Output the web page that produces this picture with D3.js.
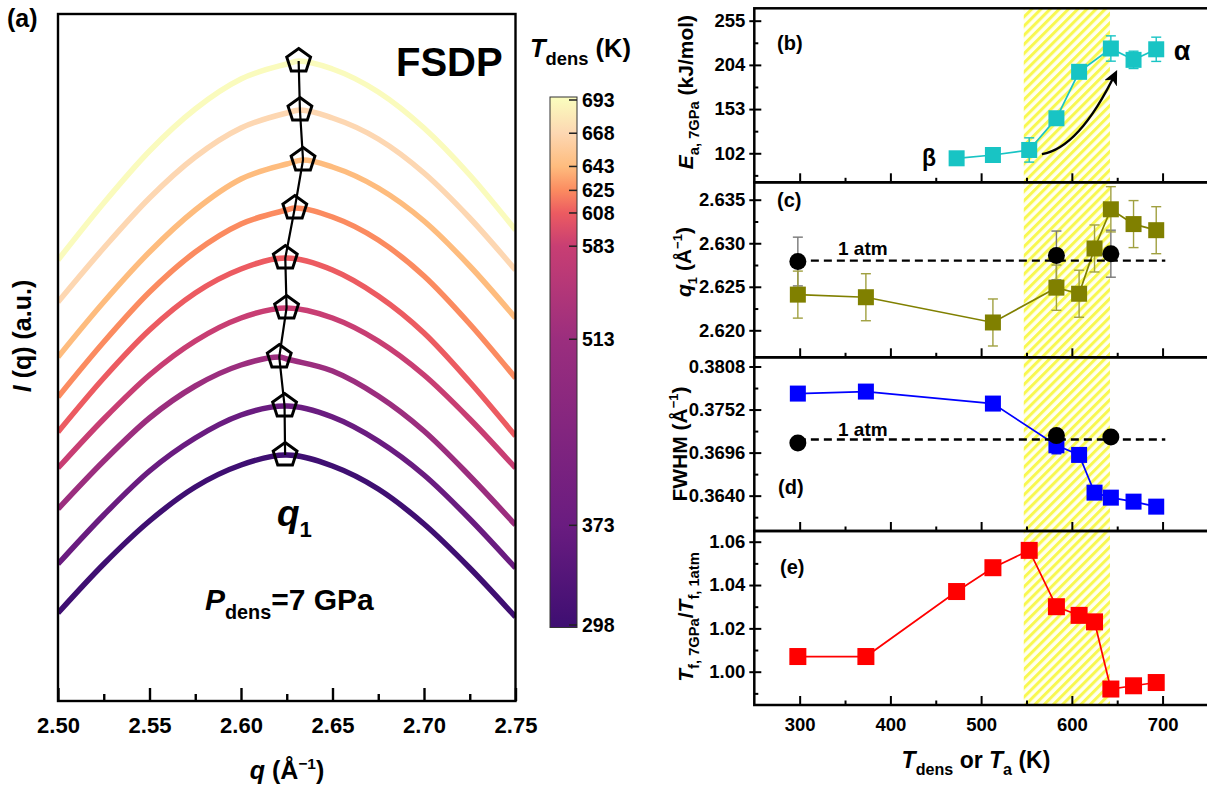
<!DOCTYPE html>
<html>
<head>
<meta charset="utf-8">
<script src="https://cdn.jsdelivr.net/npm/d3@7"></script>
<style>
  body { margin: 0; background: #fff; }
  svg { font-family: "Liberation Sans", Arial, sans-serif; font-weight: bold; }
</style>
</head>
<body>
<svg id="fig" width="1207" height="788"></svg>
<script>
// ---------------- data ----------------
// panel (a): FSDP curves, one per densification temperature
const tDens = [298, 373, 513, 583, 608, 625, 643, 668, 693];
const qGrid = [2.500, 2.525, 2.550, 2.575, 2.600, 2.625, 2.650, 2.675, 2.700, 2.725, 2.750];
const iq298 = [0.88, 1.37, 1.80, 2.14, 2.36, 2.46, 2.35, 2.12, 1.77, 1.33, 0.84];
const iq373 = [1.37, 1.86, 2.30, 2.63, 2.86, 2.95, 2.84, 2.60, 2.26, 1.82, 1.33];
const iq513 = [1.92, 2.40, 2.83, 3.15, 3.36, 3.42, 3.30, 3.05, 2.70, 2.25, 1.76];
const iq583 = [2.33, 2.82, 3.26, 3.60, 3.83, 3.93, 3.83, 3.60, 3.26, 2.82, 2.33];
const iq608 = [2.69, 3.23, 3.71, 4.08, 4.32, 4.43, 4.31, 4.05, 3.68, 3.19, 2.65];
const iq625 = [3.04, 3.59, 4.09, 4.49, 4.77, 4.91, 4.84, 4.61, 4.25, 3.77, 3.23];
const iq643 = [3.44, 3.99, 4.49, 4.91, 5.22, 5.37, 5.34, 5.13, 4.80, 4.35, 3.83];
const iq668 = [3.99, 4.53, 5.03, 5.44, 5.73, 5.88, 5.83, 5.62, 5.28, 4.83, 4.31];
const iq693 = [4.41, 4.98, 5.50, 5.92, 6.22, 6.37, 6.32, 6.09, 5.73, 5.26, 4.71];
const curves = [iq298, iq373, iq513, iq583, iq608, iq625, iq643, iq668, iq693];
const peakI = [2.46, 2.95, 3.44, 3.93, 4.43, 4.93, 5.41, 5.91, 6.40];
const curveColors = ['#3f0f72', '#6a1c80', '#9b2e7e', '#c83e73', '#ec5b61',
                     '#fb8b60', '#febc7e', '#fdd7b2', '#fafbbd'];
const qTicks = [2.50, 2.55, 2.60, 2.65, 2.70, 2.75];
const qMinor = [2.525, 2.575, 2.625, 2.675, 2.725];

// panel (b): activation energy
const tB = [473, 513, 553, 583, 608, 643, 668, 693];
const ea = [96.2, 100.0, 105.8, 142.4, 196.0, 222.9, 209.8, 222.0];
const eaErr = [3, 3, 14, 3, 3, 14.6, 10, 14];
const eaTicks = [102, 153, 204, 255];
const eaMinor = [76.5, 127.5, 178.5, 229.5];

// panel (c): FSDP position q1
const q1 = [2.6241, 2.6238, 2.6209, 2.6249, 2.6242, 2.6294, 2.6339, 2.6322, 2.6315];
const q1Err = [0.0027, 0.0027, 0.0027, 0.0026, 0.0027, 0.0027, 0.0026, 0.0027, 0.0027];
const tAtm = [298, 583, 643];
const q1Atm = [2.6279, 2.6286, 2.6288];
const q1AtmErr = [0.0028, 0.0028, 0.0027];
const q1AtmRef = 2.628;
const q1Ticks = [2.620, 2.625, 2.630, 2.635];
const q1Minor = [2.6225, 2.6275, 2.6325];

// panel (d): FWHM
const fwhm = [0.37728, 0.37754, 0.37598, 0.37055, 0.3693, 0.36439, 0.36374, 0.36322, 0.36257];
const fwhmErr = [0.0003, 0.0003, 0.0003, 0.0011, 0.0003, 0.0003, 0.0003, 0.0003, 0.0003];
const fwhmAtm = [0.37085, 0.37181, 0.37163];
const fwhmAtmRef = 0.3713;
const fwhmTicks = [0.3640, 0.3696, 0.3752, 0.3808];
const fwhmMinor = [0.3612, 0.3668, 0.3724, 0.3780];

// panel (e): fictive temperature ratio
const tE = [298, 373, 473, 513, 553, 583, 608, 625, 643, 668, 693];
const tfRatio = [1.007, 1.007, 1.037, 1.048, 1.056, 1.030, 1.026, 1.023, 0.992, 0.9935, 0.995];
const ratioTicks = [1.00, 1.02, 1.04, 1.06];
const ratioMinor = [0.99, 1.01, 1.03, 1.05];

const tTicks = [300, 400, 500, 600, 700];
const tMinor = [350, 450, 550, 650, 750];
const hatchRange = [547, 642];

// ---------------- helpers ----------------
const svg = d3.select('#fig');
const defs = svg.append('defs');

// text with italic / sub / sup pieces
function rich(g, x, y, size, parts, anchor, rotate) {
  const t = g.append('text')
    .attr('x', x).attr('y', y)
    .attr('font-size', size)
    .attr('text-anchor', anchor || 'start');
  if (rotate) t.attr('transform', `rotate(-90, ${x}, ${y})`);
  let off = 0;
  parts.forEach(p => {
    const s = p[0], k = p[1] || '', r = p[2] || 0.68;
    let target = 0;
    if (k.includes('sub')) target = 0.3 * size;
    if (k.includes('sup')) target = -0.42 * size;
    const sp = t.append('tspan').attr('dy', target - off).text(s);
    off = target;
    if (k.includes('sub') || k.includes('sup')) sp.attr('font-size', size * r);
    if (k.includes('i')) sp.attr('font-style', 'italic');
  });
  return t;
}

function pentagon(r) {
  const pts = d3.range(5).map(k => {
    const a = -Math.PI / 2 + k * 2 * Math.PI / 5;
    return [r * Math.cos(a), r * Math.sin(a)];
  });
  return 'M' + pts.map(p => p.join(',')).join('L') + 'Z';
}

function cleanAxis(a) {
  a.attr('font-family', null).attr('font-size', null);
  a.select('.domain').remove();
  return a;
}

// ---------------- panel (a) ----------------
const A = {left: 58, right: 515.5, top: 14, bottom: 701};
const xA = d3.scaleLinear().domain([2.5, 2.75]).range([A.left, A.right]);
const yA = d3.scaleLinear().domain([0, 6.87]).range([A.bottom, A.top]);
const gA = svg.append('g');

defs.append('clipPath').attr('id', 'clipA')
  .append('rect').attr('x', A.left).attr('y', A.top)
  .attr('width', A.right - A.left).attr('height', A.bottom - A.top);

const lineA = d3.line().x(d => xA(d[0])).y(d => yA(d[1])).curve(d3.curveMonotoneX);
const curveG = gA.append('g').attr('clip-path', 'url(#clipA)');
curves.forEach((c, i) => {
  const pts = qGrid.map((q, j) => [q, c[j]]);
  pts.push([q1[i], peakI[i]]);
  pts.sort((a, b) => a[0] - b[0]);
  curveG.append('path').datum(pts)
    .attr('d', lineA)
    .attr('fill', 'none')
    .attr('stroke', curveColors[i])
    .attr('stroke-width', 5.5);
});

// q1 track
const peaks = q1.map((q, i) => [q, peakI[i]]);
gA.append('path').datum(peaks)
  .attr('d', d3.line().x(d => xA(d[0])).y(d => yA(d[1])))
  .attr('fill', 'none').attr('stroke', '#000').attr('stroke-width', 2.2);
gA.selectAll('.pent').data(peaks).join('path')
  .attr('transform', d => `translate(${xA(d[0])},${yA(d[1])})`)
  .attr('d', pentagon(12.5))
  .attr('fill', 'none').attr('stroke', '#000').attr('stroke-width', 3);

// frame + x axis
gA.append('rect').attr('x', A.left).attr('y', A.top)
  .attr('width', A.right - A.left).attr('height', A.bottom - A.top)
  .attr('fill', 'none').attr('stroke', '#000').attr('stroke-width', 2.4);
const axA = cleanAxis(gA.append('g').attr('transform', `translate(0,${A.bottom})`)
  .call(d3.axisBottom(xA).tickValues(qTicks).tickSize(-13).tickPadding(16)
    .tickFormat(d3.format('.2f'))));
axA.selectAll('line').attr('stroke-width', 2.4);
axA.selectAll('text').attr('font-size', 22).attr('fill', '#000');
const axAm = cleanAxis(gA.append('g').attr('transform', `translate(0,${A.bottom})`)
  .call(d3.axisBottom(xA).tickValues(qMinor).tickSize(-7).tickFormat('')));
axAm.selectAll('line').attr('stroke-width', 2.4);

// labels (a)
gA.append('text').attr('x', 7).attr('y', 27).attr('font-size', 25).text('(a)');
gA.append('text').attr('x', 396).attr('y', 76).attr('font-size', 40).text('FSDP');
rich(gA, 277, 526, 37, [['q', 'i'], ['1', 'sub', 0.6]]);
rich(gA, 205, 610, 30, [['P', 'i'], ['dens', 'sub', 0.66], ['=7 GPa']]);
rich(gA, 287, 779, 25, [['q', 'i'], [' (Å'], ['\u22121', 'sup', 0.62], [')']], 'middle');
rich(gA, 31, 336, 25, [['I', 'i'], [' (q) (a.u.)']], 'middle', true);

// ---------------- colour bar ----------------
const cb = d3.scaleLinear().domain([298, 693]).range([625, 100]);
const cbTop = 97, cbBot = 627.5;
const grad = defs.append('linearGradient').attr('id', 'cbGrad')
  .attr('x1', 0).attr('y1', 0).attr('x2', 0).attr('y2', 1);
tDens.slice().reverse().forEach((t, k) => {
  const i = tDens.length - 1 - k;
  grad.append('stop')
    .attr('offset', (cb(t) - cbTop) / (cbBot - cbTop))
    .attr('stop-color', curveColors[i]);
});
const gC = svg.append('g');
gC.append('rect').attr('x', 550).attr('y', cbTop).attr('width', 27).attr('height', cbBot - cbTop)
  .attr('fill', 'url(#cbGrad)').attr('stroke', '#333').attr('stroke-width', 1);
gC.selectAll('.cbt').data(tDens).join('line')
  .attr('x1', 569).attr('x2', 577).attr('y1', d => cb(d)).attr('y2', d => cb(d))
  .attr('stroke', '#222').attr('stroke-width', 1.5);
gC.selectAll('.cbl').data(tDens).join('text')
  .attr('x', 582).attr('y', d => cb(d)).attr('dy', '0.35em')
  .attr('font-size', 19.5).text(d => d);
rich(gC, 530, 57, 25.5, [['T', 'i'], ['dens', 'sub', 0.72], [' (K)']]);

// ---------------- right panels ----------------
const xR = d3.scaleLinear().domain([250, 800]).range([754.3, 1253.3]);
const R = {left: 754.3, right: 1253.3};
const gR = svg.append('g');

const pat = defs.append('pattern').attr('id', 'hatch')
  .attr('patternUnits', 'userSpaceOnUse').attr('width', 6.5).attr('height', 6.5)
  .attr('patternTransform', 'rotate(45)');
pat.append('rect').attr('width', 6.5).attr('height', 6.5).attr('fill', '#fffff2');
pat.append('rect').attr('width', 3).attr('height', 6.5).attr('fill', '#f8f850');

gR.append('rect')
  .attr('x', xR(hatchRange[0])).attr('y', 9)
  .attr('width', xR(hatchRange[1]) - xR(hatchRange[0])).attr('height', 696)
  .attr('fill', 'url(#hatch)');

const panels = [
  {top: 8.3, bottom: 182.3, domain: [68.5, 269.3], ticks: eaTicks, minor: eaMinor, fmt: d3.format('d')},
  {top: 182.3, bottom: 357.3, domain: [2.6169, 2.6370], ticks: q1Ticks, minor: q1Minor, fmt: d3.format('.3f')},
  {top: 357.3, bottom: 531, domain: [0.3594, 0.3820], ticks: fwhmTicks, minor: fwhmMinor, fmt: d3.format('.4f')},
  {top: 531, bottom: 705, domain: [0.98463, 1.06494], ticks: ratioTicks, minor: ratioMinor, fmt: d3.format('.2f')}
];
panels.forEach((p, i) => {
  p.y = d3.scaleLinear().domain(p.domain).range([p.bottom, p.top]);
  const g = gR.append('g');
  p.g = g;
  // left axis: labels + outward part of major ticks, then inward ticks
  const ax1 = cleanAxis(g.append('g').attr('transform', `translate(${R.left},0)`)
    .call(d3.axisLeft(p.y).tickValues(p.ticks).tickSize(5).tickPadding(4).tickFormat(p.fmt)));
  ax1.selectAll('text').attr('font-size', 18.5).attr('fill', '#000');
  const ax2 = cleanAxis(g.append('g').attr('transform', `translate(${R.left},0)`)
    .call(d3.axisLeft(p.y).tickValues(p.ticks).tickSize(-7).tickFormat('')));
  const ax3 = cleanAxis(g.append('g').attr('transform', `translate(${R.left},0)`)
    .call(d3.axisLeft(p.y).tickValues(p.minor).tickSize(-4).tickFormat('')));
  [ax1, ax2, ax3].forEach(a => a.selectAll('line').attr('stroke-width', 2));
  // bottom axis ticks (inward)
  const bx1 = cleanAxis(g.append('g').attr('transform', `translate(0,${p.bottom})`)
    .call(d3.axisBottom(xR).tickValues(tTicks).tickSize(-9).tickPadding(13)
      .tickFormat(i === 3 ? d3.format('d') : '')));
  const bx2 = cleanAxis(g.append('g').attr('transform', `translate(0,${p.bottom})`)
    .call(d3.axisBottom(xR).tickValues(tMinor).tickSize(-4.5).tickFormat('')));
  [bx1, bx2].forEach(a => a.selectAll('line').attr('stroke-width', 2));
  bx1.selectAll('text').attr('font-size', 18.5).attr('fill', '#000');
});

function errBars(g, xs, ys, es, y, color, w) {
  xs.forEach((t, i) => {
    const x = xR(t), y1 = y(ys[i] + es[i]), y0 = y(ys[i] - es[i]);
    g.append('line').attr('x1', x).attr('x2', x).attr('y1', y1).attr('y2', y0)
      .attr('stroke', color).attr('stroke-width', w || 1.4);
    [y1, y0].forEach(yy => g.append('line').attr('x1', x - 5).attr('x2', x + 5)
      .attr('y1', yy).attr('y2', yy).attr('stroke', color).attr('stroke-width', w || 1.4));
  });
}
function series(g, xs, ys, y, color, size) {
  g.append('path').datum(xs.map((t, i) => [t, ys[i]]))
    .attr('d', d3.line().x(d => xR(d[0])).y(d => y(d[1])))
    .attr('fill', 'none').attr('stroke', color).attr('stroke-width', 1.7);
  g.selectAll(null).data(xs.map((t, i) => [t, ys[i]])).join('rect')
    .attr('x', d => xR(d[0]) - size / 2).attr('y', d => y(d[1]) - size / 2)
    .attr('width', size).attr('height', size).attr('fill', color);
}
function atmSeries(g, xs, ys, ref, y) {
  g.append('line').attr('x1', xR(298)).attr('x2', xR(703))
    .attr('y1', y(ref)).attr('y2', y(ref))
    .attr('stroke', '#000').attr('stroke-width', 2.4).attr('stroke-dasharray', '8,5');
  g.selectAll(null).data(xs.map((t, i) => [t, ys[i]])).join('circle')
    .attr('cx', d => xR(d[0])).attr('cy', d => y(d[1])).attr('r', 8.5).attr('fill', '#000');
}

// (b)
const pb = panels[0];
errBars(pb.g, tB, ea, eaErr, pb.y, '#18c4c4');
series(pb.g, tB, ea, pb.y, '#18c4c4', 16);
defs.append('marker').attr('id', 'arrow').attr('markerUnits', 'userSpaceOnUse')
  .attr('markerWidth', 18).attr('markerHeight', 16).attr('refX', 11).attr('refY', 7)
  .attr('orient', 'auto')
  .append('path').attr('d', 'M0,0 L15,7 L0,14 L4,7 Z').attr('fill', '#000');
const arrowPts = [[567, 101], [608, 108], [648, 194]];
pb.g.append('path')
  .attr('d', `M${xR(arrowPts[0][0])},${pb.y(arrowPts[0][1])} Q${xR(arrowPts[1][0])},${pb.y(arrowPts[1][1])} ${xR(arrowPts[2][0])},${pb.y(arrowPts[2][1])}`)
  .attr('fill', 'none').attr('stroke', '#000').attr('stroke-width', 2.4)
  .attr('marker-end', 'url(#arrow)');
pb.g.append('text').attr('x', 777).attr('y', 50).attr('font-size', 20).text('(b)');
pb.g.append('text').attr('x', 929).attr('y', 166).attr('font-size', 23).attr('text-anchor', 'middle').text('β');
pb.g.append('text').attr('x', 1182).attr('y', 60).attr('font-size', 27).attr('text-anchor', 'middle').text('α');
rich(pb.g, 693, 92, 21, [['E', 'i'], ['a, 7GPa', 'sub', 0.7], [' (kJ/mol)']], 'middle', true);

// (c)
const pc = panels[1];
errBars(pc.g, tAtm, q1Atm, q1AtmErr, pc.y, '#777');
errBars(pc.g, tDens, q1, q1Err, pc.y, '#a0a040');
series(pc.g, tDens, q1, pc.y, '#808000', 16);
atmSeries(pc.g, tAtm, q1Atm, q1AtmRef, pc.y);
pc.g.append('text').attr('x', 777).attr('y', 207).attr('font-size', 20).text('(c)');
pc.g.append('text').attr('x', 838).attr('y', 255).attr('font-size', 19).text('1 atm');
rich(pc.g, 691, 262, 21, [['q', 'i'], ['1', 'sub', 0.62], [' (Å'], ['\u22121', 'sup', 0.62], [')']], 'middle', true);

// (d)
const pd = panels[2];
errBars(pd.g, tDens, fwhm, fwhmErr, pd.y, '#0000ff');
series(pd.g, tDens, fwhm, pd.y, '#0000ff', 16);
atmSeries(pd.g, tAtm, fwhmAtm, fwhmAtmRef, pd.y);
pd.g.append('text').attr('x', 778).attr('y', 494).attr('font-size', 20).text('(d)');
pd.g.append('text').attr('x', 838).attr('y', 436).attr('font-size', 19).text('1 atm');
rich(pd.g, 687, 444, 21, [['FWHM (Å'], ['\u22121', 'sup', 0.62], [')']], 'middle', true);

// (e)
const pe = panels[3];
series(pe.g, tE, tfRatio, pe.y, '#ff0000', 17);
pe.g.append('text').attr('x', 780).attr('y', 574).attr('font-size', 20).text('(e)');
rich(pe.g, 693, 617, 21, [['T', 'i'], ['f, 7GPa', 'sub', 0.7], ['/'], ['T', 'i'], ['f, 1atm', 'sub', 0.7]], 'middle', true);
rich(gR, 976, 768, 23, [['T', 'i'], ['dens', 'sub', 0.7], [' or '], ['T', 'i'], ['a', 'sub', 0.7], [' (K)']], 'middle');

// panel frames on top
panels.forEach(p => {
  gR.append('rect').attr('x', R.left).attr('y', p.top)
    .attr('width', R.right - R.left).attr('height', p.bottom - p.top)
    .attr('fill', 'none').attr('stroke', '#000').attr('stroke-width', 2.5);
});
</script>
</body>
</html>
